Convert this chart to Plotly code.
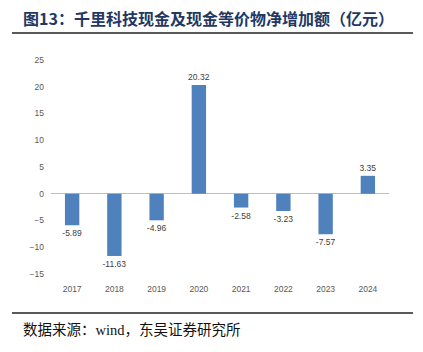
import plotly.graph_objects as go

years = ["2017", "2018", "2019", "2020", "2021", "2022", "2023", "2024"]
values = [-5.89, -11.63, -4.96, 20.32, -2.58, -3.23, -7.57, 3.35]
labels = ["-5.89", "-11.63", "-4.96", "20.32", "-2.58", "-3.23", "-7.57", "3.35"]
yticks = [-15, -10, -5, 0, 5, 10, 15, 20, 25]

W, H = 423, 352
L, R, T, B = 51, 389, 60, 274

def px(x):
    return (x - L) / (R - L)

def py(y):
    return (B - y) / (B - T)

fig = go.Figure()
fig.add_trace(go.Bar(
    x=years, y=values, text=labels, textposition="outside",
    constraintext="none",
    textfont=dict(size=8.5, color="#404040", family="Liberation Sans"),
    marker=dict(color="#4f81bd", line=dict(width=0)),
    width=0.34, cliponaxis=False,
))

fig.update_layout(
    width=W, height=H,
    margin=dict(l=L, r=W - R, t=T, b=H - B),
    paper_bgcolor="white", plot_bgcolor="white",
    showlegend=False,
    xaxis=dict(showgrid=False, showline=False, ticks="", ticklabelstandoff=8,
               tickfont=dict(size=8.5, color="#595959", family="Liberation Sans")),
    yaxis=dict(range=[-15, 25], tickvals=yticks, showgrid=False, zeroline=True,
               zerolinecolor="#bfbfbf", zerolinewidth=1, showline=False, ticks="",
               tickfont=dict(size=8.5, color="#595959", family="Liberation Sans"),
               ticklabelstandoff=6),
    shapes=[
        dict(type="line", xref="paper", yref="paper", x0=px(12), x1=px(413),
             y0=py(33), y1=py(33), line=dict(color="#222222", width=1.5)),
        dict(type="line", xref="paper", yref="paper", x0=px(12), x1=px(413),
             y0=py(313), y1=py(313), line=dict(color="#222222", width=1.5)),
    ],
    annotations=[
        dict(text="<b>图13：千里科技现金及现金等价物净增加额（亿元）</b>", xref="paper", yref="paper",
             x=px(21), y=py(18), xanchor="left", yanchor="middle", showarrow=False,
             font=dict(size=16, color="#1f3864", family="Noto Sans CJK SC")),
        dict(text="数据来源：<span style='font-family:Liberation Serif'>wind</span>，东吴证券研究所", xref="paper", yref="paper",
             x=px(21), y=py(328), xanchor="left", yanchor="middle", showarrow=False,
             font=dict(size=14.5, color="#111111", family="Noto Sans CJK SC")),
    ],
)

fig.write_html("out.html")
